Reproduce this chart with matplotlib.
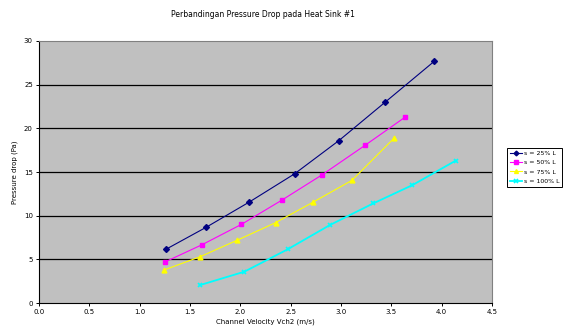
import numpy as np
import matplotlib
matplotlib.use("Agg")
from matplotlib import pyplot as plt

# data
x25 = [1.26, 1.66, 2.09, 2.54, 2.98, 3.44, 3.93]
y25 = [6.15, 8.67, 11.57, 14.8, 18.6, 23.0, 27.7]
x50 = [1.25, 1.62, 2.01, 2.41, 2.81, 3.24, 3.64]
y50 = [4.7, 6.68, 9.0, 11.76, 14.66, 18.06, 21.3]
x75 = [1.24, 1.60, 1.97, 2.35, 2.72, 3.11, 3.53]
y75 = [3.78, 5.3, 7.2, 9.2, 11.53, 14.05, 18.9]
x100 = [1.60, 2.04, 2.47, 2.89, 3.32, 3.71, 4.14]
y100 = [2.06, 3.59, 6.15, 8.93, 11.4, 13.5, 16.3]
labels = ["s = 25% L", "s = 50% L", "s = 75% L", "s = 100% L"]
xticks = [0, 0.5, 1.0, 1.5, 2.0, 2.5, 3.0, 3.5, 4.0, 4.5]
yticks = [0, 5, 10, 15, 20, 25, 30]

fig = plt.figure(figsize=(5.66, 3.36), dpi=100)
ax = fig.add_axes([0.069, 0.098, 0.800, 0.780])
ax.set_facecolor("#c0c0c0")

# horizontal grid lines
for yt in yticks[1:-1]:
    ax.axhline(yt, color="black", lw=0.9, zorder=1)

ax.plot(x25, y25, color="#000080", marker="D", ms=3, lw=0.8, label=labels[0], zorder=3)
ax.plot(x50, y50, color="#ff00ff", marker="s", ms=3.5, lw=0.8, label=labels[1], zorder=3)
ax.plot(x75, y75, color="#ffff00", marker="^", ms=3.5, lw=0.8, label=labels[2], zorder=3)
ax.plot(x100, y100, color="#00ffff", marker="x", ms=3.5, mew=1.2, lw=1.3, label=labels[3], zorder=3)

ax.set_xlim(0, 4.5)
ax.set_ylim(0, 30)
ax.set_xticks(xticks)
ax.set_xticklabels(["%.1f" % v for v in xticks])
ax.set_yticks(yticks)
ax.tick_params(labelsize=5, length=2.5, width=0.7, pad=2)

ax.spines["left"].set_color("black")
ax.spines["bottom"].set_color("black")
ax.spines["top"].set_color("#808080")
ax.spines["right"].set_color("#808080")
for s in ax.spines.values():
    s.set_linewidth(0.8)

ax.set_xlabel("Channel Velocity Vch2 (m/s)", fontsize=5, labelpad=2)
ax.set_ylabel("Pressure drop (Pa)", fontsize=5, labelpad=4)
fig.text(0.465, 0.957, "Perbandingan Pressure Drop pada Heat Sink #1", fontsize=5.5, ha="center", va="center")

leg = fig.legend(loc="upper left", bbox_to_anchor=(0.896, 0.56), fontsize=4.5,
                 frameon=True, fancybox=False, edgecolor="black", framealpha=1,
                 handlelength=2.0, borderpad=0.4, labelspacing=0.65, handletextpad=0.3,
                 borderaxespad=0, markerscale=0.8)
leg.get_frame().set_linewidth(0.7)

fig.savefig("out.png", dpi=100)
